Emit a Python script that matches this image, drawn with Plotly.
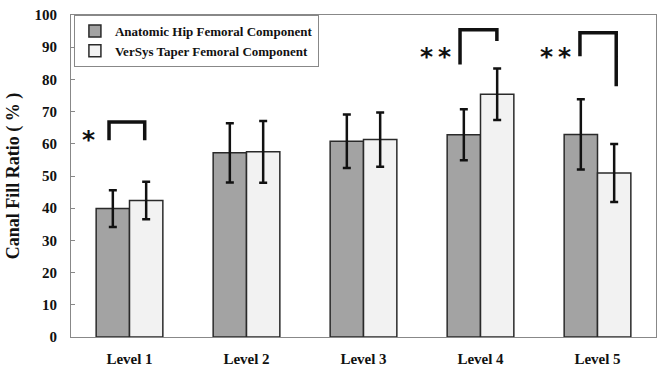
import plotly.graph_objects as go

levels = ["Level 1", "Level 2", "Level 3", "Level 4", "Level 5"]
anatomic_mean = [39.9, 57.2, 60.8, 62.8, 62.9]
anatomic_sd = [5.7, 9.2, 8.3, 7.9, 10.9]
versys_mean = [42.4, 57.5, 61.3, 75.4, 50.9]
versys_sd = [5.8, 9.6, 8.4, 8.0, 9.0]

# significance brackets: category index, left/right offsets, top, left bottom, right bottom, label, label height
sig_level = [0, 3, 4]
sig_left = [-0.175, -0.175, -0.15]
sig_right = [0.13, 0.14, 0.16]
sig_top = [66.8, 95.4, 94.5]
sig_left_bottom = [61.1, 84.6, 87.2]
sig_right_bottom = [61.1, 91.9, 77.9]
sig_label = ["*", "*\u2009*", "*\u2009*"]
sig_label_y = [63.3, 89.0, 89.0]
sig_label_gap = [-12, -7, -7]

font_family = "Liberation Serif, Times New Roman, serif"

fig = go.Figure()
fig.add_trace(go.Bar(
    x=levels, y=anatomic_mean, name="Anatomic Hip Femoral Component",
    marker=dict(color="#a3a3a3", line=dict(color="#2a2a2a", width=1.5)),
    error_y=dict(type="data", array=anatomic_sd, color="#111111", thickness=2.5, width=4),
))
fig.add_trace(go.Bar(
    x=levels, y=versys_mean, name="VerSys Taper Femoral Component",
    marker=dict(color="#f2f2f2", line=dict(color="#2a2a2a", width=1.5)),
    error_y=dict(type="data", array=versys_sd, color="#111111", thickness=2.5, width=4),
))

for i in range(len(sig_level)):
    c = sig_level[i]
    xl = c + sig_left[i]
    xr = c + sig_right[i]
    fig.add_shape(type="path",
                  path=f"M {xl} {sig_left_bottom[i]} L {xl} {sig_top[i]} L {xr} {sig_top[i]} L {xr} {sig_right_bottom[i]}",
                  xref="x", yref="y", line=dict(color="#111111", width=3.5))
    fig.add_annotation(x=xl, y=sig_label_y[i],
                       xref="x", yref="y", text=sig_label[i], showarrow=False,
                       xanchor="right", yanchor="middle", xshift=sig_label_gap[i], yshift=-6,
                       font=dict(family="DejaVu Sans", size=25, color="#111111", weight="bold"))

fig.update_layout(
    width=663, height=369,
    margin=dict(l=71, r=7, t=15, b=32),
    paper_bgcolor="white", plot_bgcolor="white",
    barmode="group", bargap=0.43, bargroupgap=0,
    font=dict(family=font_family, size=14, color="#111111"),
    showlegend=True,
    legend=dict(x=0.005, y=1.0, xanchor="left", yanchor="top",
                bgcolor="white", bordercolor="#888888", borderwidth=1,
                font=dict(family=font_family, size=13, color="#111111", weight="bold"),
                itemwidth=30, entrywidth=240),
)
fig.update_xaxes(
    showline=True, linecolor="#888888", linewidth=1, mirror=True,
    ticks="", showgrid=False, automargin=False,
    tickfont=dict(family=font_family, size=15, color="#111111", weight="bold"),
    ticklabelstandoff=8,
)
fig.update_yaxes(
    range=[0, 100], dtick=10, showline=True, linecolor="#888888", linewidth=1, mirror=True,
    ticks="inside", ticklen=4, tickcolor="#888888", showgrid=False, automargin=False,
    tickfont=dict(family=font_family, size=15, color="#111111", weight="bold"),
    ticklabelstandoff=10,
    title=dict(text="Canal Fill Ratio ( % )",
               font=dict(family=font_family, size=18, color="#111111", weight="bold"),
               standoff=10),
)

fig.write_html("out.html")
